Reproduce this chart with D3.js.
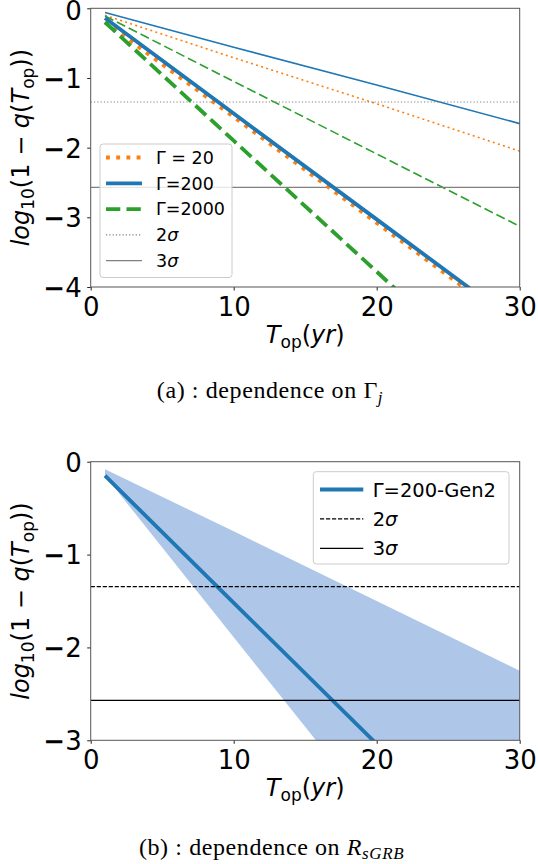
<!DOCTYPE html>
<html><head><meta charset="utf-8">
<script src="https://cdn.jsdelivr.net/npm/d3@7"></script>
<style>body{margin:0;background:#fff}svg{display:block}</style>
</head><body><svg id="c" width="538" height="864"></svg>
<script>
// ---------- data ----------
const tOp = [1, 10, 20, 30];
const xTicks = [0, 10, 20, 30];
const yTicksA = [0, -1, -2, -3, -4];
const yTicksB = [0, -1, -2, -3];
const sigma2 = -1.345;
const sigma3 = -2.57;

// panel (a): thick lines (legend) and thin companions
const g20Thick   = [-0.20, -1.56, -3.08, -4.60];
const g200Thick  = [-0.14, -1.51, -3.03, -4.55];
const g2000Thick = [-0.20, -1.90, -3.78, -5.67];
const g20Thin    = [-0.10, -0.71, -1.37, -2.05];
const g200Thin   = [-0.06, -0.56, -1.10, -1.655];
const g2000Thin  = [-0.11, -1.05, -2.09, -3.13];
const legendA = ["Γ = 20", "Γ=200", "Γ=2000", "2σ", "3σ"];

// panel (b)
const gen2      = [-0.15, -1.52, -3.04, -4.55];
const bandUpper = [-0.08, -0.75, -1.50, -2.25];
const bandLower = [-0.15, -1.89, -3.82, -5.75];
const legendB = ["Γ=200-Gen2", "2σ", "3σ"];

const C = {blue: "#1f77b4", orange: "#ff7f0e", green: "#2ca02c", band: "#aec7e8"};
const FONT = "DejaVu Sans";

const svg = d3.select("#c");

function makePanel(id, top, bottom, yMin, yTicks) {
  const x = d3.scaleLinear().domain([0, 30]).range([90.7, 519.7]);
  const y = d3.scaleLinear().domain([yMin, 0]).range([bottom, top]);
  const g = svg.append("g");
  svg.append("clipPath").attr("id", id).append("rect")
    .attr("x", x(0)).attr("y", y(0)).attr("width", x(30) - x(0)).attr("height", y(yMin) - y(0));
  const plot = g.append("g").attr("clip-path", `url(#${id})`);
  const ax = g.append("g").attr("transform", `translate(0,${y(yMin)})`)
    .call(d3.axisBottom(x).tickValues(xTicks).tickSize(3.5).tickPadding(6).tickFormat(d3.format("d")));
  const ay = g.append("g").attr("transform", `translate(${x(0)},0)`)
    .call(d3.axisLeft(y).tickValues(yTicks).tickSize(3.5).tickPadding(5.5).tickFormat(d3.format("d")));
  [ax, ay].forEach(a => {
    a.select(".domain").remove();
    a.selectAll(".tick line").attr("stroke", "#222").attr("stroke-width", 1);
    a.selectAll(".tick text").style("font-family", FONT).style("font-size", "26px").attr("fill", "#000");
  });
  ax.selectAll(".tick text").attr("y", 0).attr("dy", null)
    .attr("transform", "translate(0,28.7)");
  ay.selectAll(".tick text")
    .attr("dy", d => d === 0 && top < 20 ? "0.43em" : "0.36em")
    .each(function (d) {
      const t = d3.select(this);
      const s = t.text();
      if (d < 0) {
        t.text(null);
        t.append("tspan").style("font-weight", "bold").text("−");
        t.append("tspan").text(s.slice(1));
      }
    });
  return {x, y, g, plot, yMin};
}

function line(p, vals) {
  return d3.line().x((d, i) => p.x(tOp[i])).y(d => p.y(d))(vals);
}
function drawLine(p, vals, color, w, dash) {
  p.plot.append("path").attr("d", line(p, vals)).attr("fill", "none")
    .attr("stroke", color).attr("stroke-width", w).attr("stroke-dasharray", dash || null);
}
function hline(p, v, color, w, dash) {
  p.plot.append("line").attr("x1", p.x(0)).attr("x2", p.x(30)).attr("y1", p.y(v)).attr("y2", p.y(v))
    .attr("stroke", color).attr("stroke-width", w).attr("stroke-dasharray", dash || null);
}
function spines(p) {
  p.g.append("rect").attr("x", p.x(0)).attr("y", p.y(0))
    .attr("width", p.x(30) - p.x(0)).attr("height", p.y(p.yMin) - p.y(0))
    .attr("fill", "none").attr("stroke", "#555").attr("stroke-width", 1);
}
function labelText(t, label) {
  if (label.endsWith("σ")) {
    t.append("tspan").text(label.slice(0, -1));
    t.append("tspan").style("font-style", "italic").text("σ");
  } else t.text(label);
}
function xlabel(p, yBase) {
  const t = p.g.append("text").attr("x", (p.x(0) + p.x(30)) / 2).attr("y", yBase)
    .attr("text-anchor", "middle").style("font-family", FONT).style("font-size", "24px");
  t.append("tspan").style("font-style", "italic").text("T");
  t.append("tspan").attr("dy", 5).style("font-size", "17px").text("op");
  t.append("tspan").attr("dy", -5).text("(");
  t.append("tspan").style("font-style", "italic").text("yr");
  t.append("tspan").text(")");
}
function ylabel(p, xBase) {
  const cy = (p.y(0) + p.y(p.yMin)) / 2;
  const t = p.g.append("text").attr("transform", `translate(${xBase},${cy}) rotate(-90)`)
    .attr("text-anchor", "middle").style("font-family", FONT).style("font-size", "24px");
  t.append("tspan").style("font-style", "italic").text("log");
  t.append("tspan").attr("dy", 5).style("font-size", "17px").text("10");
  t.append("tspan").attr("dy", -5).text("(1 − ");
  t.append("tspan").style("font-style", "italic").text("q");
  t.append("tspan").text("(");
  t.append("tspan").style("font-style", "italic").text("T");
  t.append("tspan").attr("dy", 5).style("font-size", "17px").text("op");
  t.append("tspan").attr("dy", -5).text("))");
}
function legend(p, box, items, fs) {
  const g = p.g.append("g");
  g.append("rect").attr("x", box.x).attr("y", box.y).attr("width", box.w).attr("height", box.h)
    .attr("rx", 3).attr("fill", "#fff").attr("fill-opacity", 0.8).attr("stroke", "#ccc").attr("stroke-width", 1);
  items.forEach((it, i) => {
    const yy = box.row0 + i * box.dy;
    g.append("line").attr("x1", box.lx0).attr("x2", box.lx1).attr("y1", yy).attr("y2", yy)
      .attr("stroke", it.color).attr("stroke-width", it.w).attr("stroke-dasharray", it.dash || null);
    const t = g.append("text").attr("x", box.tx).attr("y", yy).attr("dy", "0.36em")
      .style("font-family", FONT).style("font-size", fs + "px");
    labelText(t, it.label);
  });
}
function caption(x, y, parts) {
  const t = svg.append("text").attr("x", x).attr("y", y).attr("text-anchor", "middle")
    .style("font-family", "Liberation Serif").style("font-size", "24px").style("letter-spacing", "0.6px");
  parts.forEach(pt => {
    const s = t.append("tspan").text(pt.s);
    if (pt.it) s.style("font-style", "italic");
    if (pt.sub) s.attr("dy", pt.sub).style("font-size", "17px");
  });
}

// ---------- panel (a) ----------
const A = makePanel("clipA", 8.3, 287, -4, yTicksA);
const thickW = 3.85, thinW = 1.6;
drawLine(A, g200Thin, C.blue, thinW);
drawLine(A, g20Thin, C.orange, thinW, "2,3.3");
drawLine(A, g2000Thin, C.green, thinW, "9.3,4");
hline(A, sigma2, "#808080", 1.2, "1.2,2.1");
hline(A, sigma3, "#808080", 1.2);
drawLine(A, g20Thick, C.orange, thickW, "3.9,6.3");
drawLine(A, g200Thick, C.blue, thickW);
drawLine(A, g2000Thick, C.green, thickW, "14.3,6.2");
spines(A);
xlabel(A, 342.7);
ylabel(A, 28.5);
const stylesA = [
  {color: C.orange, w: thickW, dash: "3.9,6.3"},
  {color: C.blue, w: thickW},
  {color: C.green, w: thickW, dash: "14.3,6.2"},
  {color: "#808080", w: 1.2, dash: "1.2,2.1"},
  {color: "#808080", w: 1.2}
];
legend(A, {x: 100, y: 144, w: 132, h: 133.5, row0: 157.5, dy: 25.8, lx0: 106, lx1: 142, tx: 156},
  legendA.map((l, i) => Object.assign({label: l}, stylesA[i])), 17.5);

caption(270, 397.5, [{s: "(a) :  dependence on Γ"}, {s: "j", it: true, sub: 5}]);

// ---------- panel (b) ----------
const B = makePanel("clipB", 461.7, 740.3, -3, yTicksB);
B.plot.append("path")
  .attr("d", d3.area().x((d, i) => B.x(tOp[i])).y0((d, i) => B.y(bandLower[i])).y1(d => B.y(d))(bandUpper))
  .attr("fill", C.band).attr("stroke", "none");
drawLine(B, gen2, C.blue, thickW);
hline(B, sigma2, "#000", 1.2, "4.2,1.8");
hline(B, sigma3, "#000", 1.2);
spines(B);
xlabel(B, 796);
ylabel(B, 28.5);
const stylesB = [
  {color: C.blue, w: thickW},
  {color: "#000", w: 1.2, dash: "4.2,1.8"},
  {color: "#000", w: 1.2}
];
legend(B, {x: 313.3, y: 471.7, w: 195.7, h: 92.3, row0: 489.5, dy: 29.4, lx0: 320, lx1: 363.3, tx: 372.7},
  legendB.map((l, i) => Object.assign({label: l}, stylesB[i])), 19.5);

caption(271.5, 855, [{s: "(b) :  dependence on "}, {s: "R", it: true}, {s: "sGRB", it: true, sub: 4}]);
</script></body></html>
